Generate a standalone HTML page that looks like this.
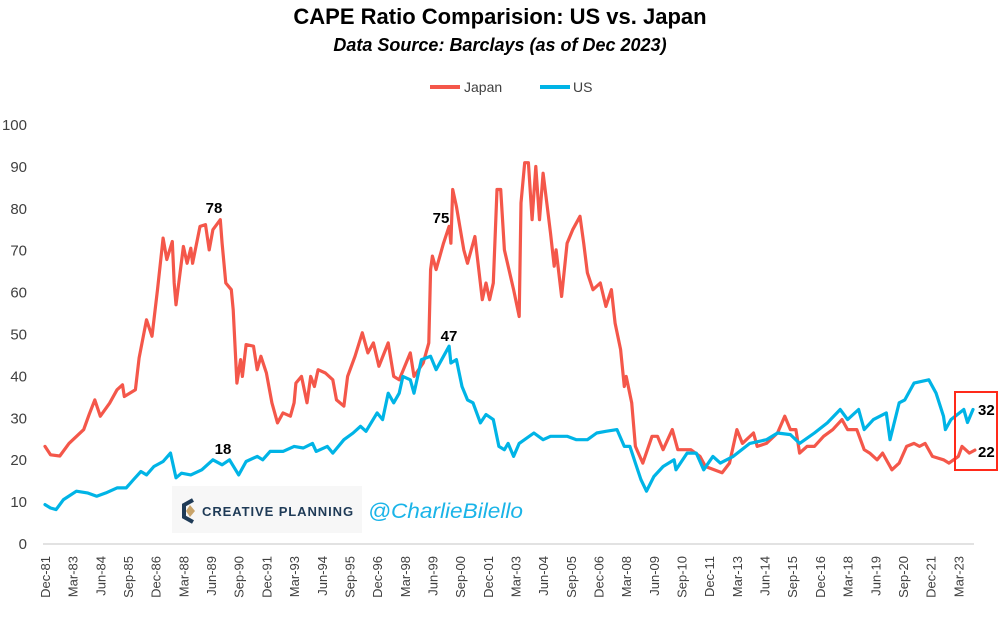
<!DOCTYPE html>
<html><head><meta charset="utf-8"><style>
html,body{margin:0;padding:0;background:#fff;}
body{width:1000px;height:612px;overflow:hidden;font-family:"Liberation Sans",sans-serif;}
</style></head><body>
<svg id="chart" width="1000" height="612" viewBox="0 0 1000 612" xmlns="http://www.w3.org/2000/svg" font-family="Liberation Sans, sans-serif">
<text x="500" y="24" text-anchor="middle" font-size="22" font-weight="bold" fill="#000">CAPE Ratio Comparision: US vs. Japan</text>
<text x="500" y="51" text-anchor="middle" font-size="18" font-weight="bold" font-style="italic" fill="#000">Data Source: Barclays (as of Dec 2023)</text>
<g>
<line x1="430" y1="87" x2="460" y2="87" stroke="#f4574a" stroke-width="4"/>
<text x="464" y="92" font-size="14" fill="#404040">Japan</text>
<line x1="540" y1="87" x2="570" y2="87" stroke="#00b4e6" stroke-width="4"/>
<text x="573" y="92" font-size="14" fill="#404040">US</text>
</g>
<g id="yaxis"></g>
<g id="xaxis"></g>
<g>
<rect x="172" y="486" width="190" height="47" fill="#f7f7f7"/>
<path d="M193 500 L184 505 L184 517 L193 522" fill="none" stroke="#1f3b57" stroke-width="4"/>
<path d="M190 505 L195 511 L190 517 L186 511 Z" fill="#c9a46a"/>
<text x="202" y="516" font-size="13" font-weight="bold" letter-spacing="0.9" fill="#1f3b57" textLength="152" lengthAdjust="spacingAndGlyphs">CREATIVE PLANNING</text>
<text x="368" y="518" font-size="21" font-style="italic" fill="#1ab4e8" textLength="155" lengthAdjust="spacingAndGlyphs">@CharlieBilello</text>
</g>
<g id="series"></g>
<g>
<text x="214" y="213" text-anchor="middle" font-size="15" font-weight="bold">78</text>
<text x="441" y="223" text-anchor="middle" font-size="15" font-weight="bold">75</text>
<text x="223" y="454" text-anchor="middle" font-size="15" font-weight="bold">18</text>
<text x="449" y="341" text-anchor="middle" font-size="15" font-weight="bold">47</text>
<rect x="955" y="392" width="42" height="78" fill="none" stroke="#ff2a1a" stroke-width="2"/>
<text x="978" y="415" font-size="15" font-weight="bold">32</text>
<text x="978" y="457" font-size="15" font-weight="bold">22</text>
</g>
</svg>
<script>
// months since Dec-1981
const jpMonths=[0,3,8,13,21,24,27,30,35,39,42,43,49,51,55,58,61,64,66,69,70,71,75,77,79,80,84,87,89,91,95,96,98,101,102,104,106,107,109,113,115,117,120,123,126,129,133,135,136,139,142,144,146,148,152,156,158,162,164,168,172,175,178,181,186,189,192,198,200,205,208,209,210,212,216,219,220,221,223,227,229,231,233,237,239,241,243,245,247,249,254,257,258,260,262,264,266,268,270,272,274,276,277,280,283,286,290,292,294,297,301,304,307,309,312,314,315,318,320,324,329,332,335,340,343,350,355,358,367,371,375,378,384,386,391,397,401,404,407,409,413,417,422,427,432,435,440,444,447,451,454,459,463,467,471,474,477,481,487,490,495,497,501,504];
const jpValues=[23.3,21.3,21,24,27.3,31,34.4,30.5,33.6,36.8,38,35.2,36.8,44.4,53.5,49.6,60.7,73,67.9,72.2,62.3,57.1,71,67,70.6,67,75.8,76.2,70.2,75,77.4,71.8,62.3,60.7,55.9,38.4,44,40,47.6,47.2,41.6,44.8,40.8,33.7,28.9,31.3,30.5,33.7,38.4,40,33.7,40,37.6,41.6,40.8,39.2,34.4,32.9,40,44.8,50.4,45.6,48,42.4,48,40,39.2,45.6,40,43.2,48,65.5,68.7,65.5,71.8,75.8,71.8,84.6,80.6,70.2,67,70.2,73.4,58.3,62.3,58.3,62.3,84.6,84.6,70.2,60.7,54.3,81.4,91,91,77.4,90.1,77.4,88.5,81.4,74.2,66.3,70.2,59.1,71.8,75,78.2,71.8,64.7,60.7,62.3,56.7,60.7,52.7,46.4,37.6,40,33.7,23.3,19.3,25.7,25.7,22.5,27.3,22.5,22.5,20.9,18.5,17,19.3,27.3,24,26.5,23.3,24,26.5,30.5,27.3,27.3,21.7,23.3,23.3,25.7,27.3,29.7,27.3,27.3,22.5,21.7,20.1,21.7,17.7,19.3,23.3,24,23.3,24,20.9,20.1,19.3,20.9,23.3,21.7,22.4];
const usMonths=[0,3,6,10,17,23,28,33,39,44,48,52,55,59,64,68,71,74,79,85,91,96,100,105,109,115,118,122,129,135,140,145,147,153,156,162,167,171,174,180,183,186,189,192,194,198,200,204,209,212,216,219,220,223,226,229,232,236,239,243,246,249,251,254,257,265,270,274,283,288,294,299,304,310,314,317,320,323,326,330,335,341,342,348,353,357,362,366,373,382,391,397,404,409,417,424,431,435,441,444,449,456,458,463,466,471,479,483,487,488,491,498,500,503];
const usValues=[9.4,8.6,8.2,10.6,12.6,12.2,11.4,12.2,13.4,13.4,15.4,17.3,16.5,18.5,19.7,21.7,15.8,16.9,16.5,17.7,20.1,18.9,20.1,16.5,19.7,20.9,20.1,22.1,22.1,23.3,22.9,24,22.1,23.3,21.7,24.9,26.5,28.1,26.9,31.3,29.7,36,33.7,36,40,39.2,36,44,44.8,41.6,44.8,47.2,43.2,44,37.6,34.4,33.7,28.9,30.9,29.7,23.3,22.5,24,20.9,24,26.5,24.9,25.7,25.7,24.9,24.9,26.5,26.9,27.3,23.3,23.3,19.3,15.4,12.6,16.1,18.5,20.1,17.7,21.7,21.7,17.7,20.9,19.3,20.9,24,24.9,26.5,26.1,24,26.5,28.9,32.1,29.7,32.1,27.3,29.7,31.3,24.9,33.7,34.4,38.4,39.2,36,30.5,27.3,29.7,32.1,29,32.1];
const yTicks=[0,10,20,30,40,50,60,70,80,90,100];
const xTickLabels=["Dec-81","Mar-83","Jun-84","Sep-85","Dec-86","Mar-88","Jun-89","Sep-90","Dec-91","Mar-93","Jun-94","Sep-95","Dec-96","Mar-98","Jun-99","Sep-00","Dec-01","Mar-03","Jun-04","Sep-05","Dec-06","Mar-08","Jun-09","Sep-10","Dec-11","Mar-13","Jun-14","Sep-15","Dec-16","Mar-18","Jun-19","Sep-20","Dec-21","Mar-23"];

const NS="http://www.w3.org/2000/svg";
const X0=45,PXM=1.845,Y0=544,PXU=4.19;
function xs(m){return X0+m*PXM;}
function ys(v){return Y0-v*PXU;}
function mk(tag,attrs,parent){const e=document.createElementNS(NS,tag);for(const k in attrs)e.setAttribute(k,attrs[k]);parent.appendChild(e);return e;}

const yax=document.getElementById('yaxis');
yTicks.forEach(v=>{
  const t=mk('text',{x:27,y:ys(v)+5,'text-anchor':'end','font-size':15,fill:'#404040'},yax);
  
  
  t.textContent=v;
});
const xax=document.getElementById('xaxis');
const base=mk('line',{x1:43,y1:Y0,x2:974,y2:Y0,stroke:'#d9d9d9','stroke-width':1.5},xax);


xTickLabels.forEach((lab,i)=>{
  const x=xs(i*15)+5;
  const t=mk('text',{x:0,y:0,transform:`translate(${x},556) rotate(-90)`,'text-anchor':'end','font-size':13,fill:'#404040'},xax);
  
  
  t.textContent=lab;
});
const sg=document.getElementById('series');
function line(ms,vs,color,name){
  const d=ms.map((m,i)=>(i?'L':'M')+xs(m).toFixed(1)+' '+ys(vs[i]).toFixed(1)).join(' ');
  const p=mk('path',{d:d,fill:'none',stroke:color,'stroke-width':3.2,'stroke-linejoin':'round','stroke-linecap':'round'},sg);
  
  
}
line(jpMonths,jpValues,'#f4574a','japan-line');
line(usMonths,usValues,'#00b4e6','us-line');
</script>
</body></html>
